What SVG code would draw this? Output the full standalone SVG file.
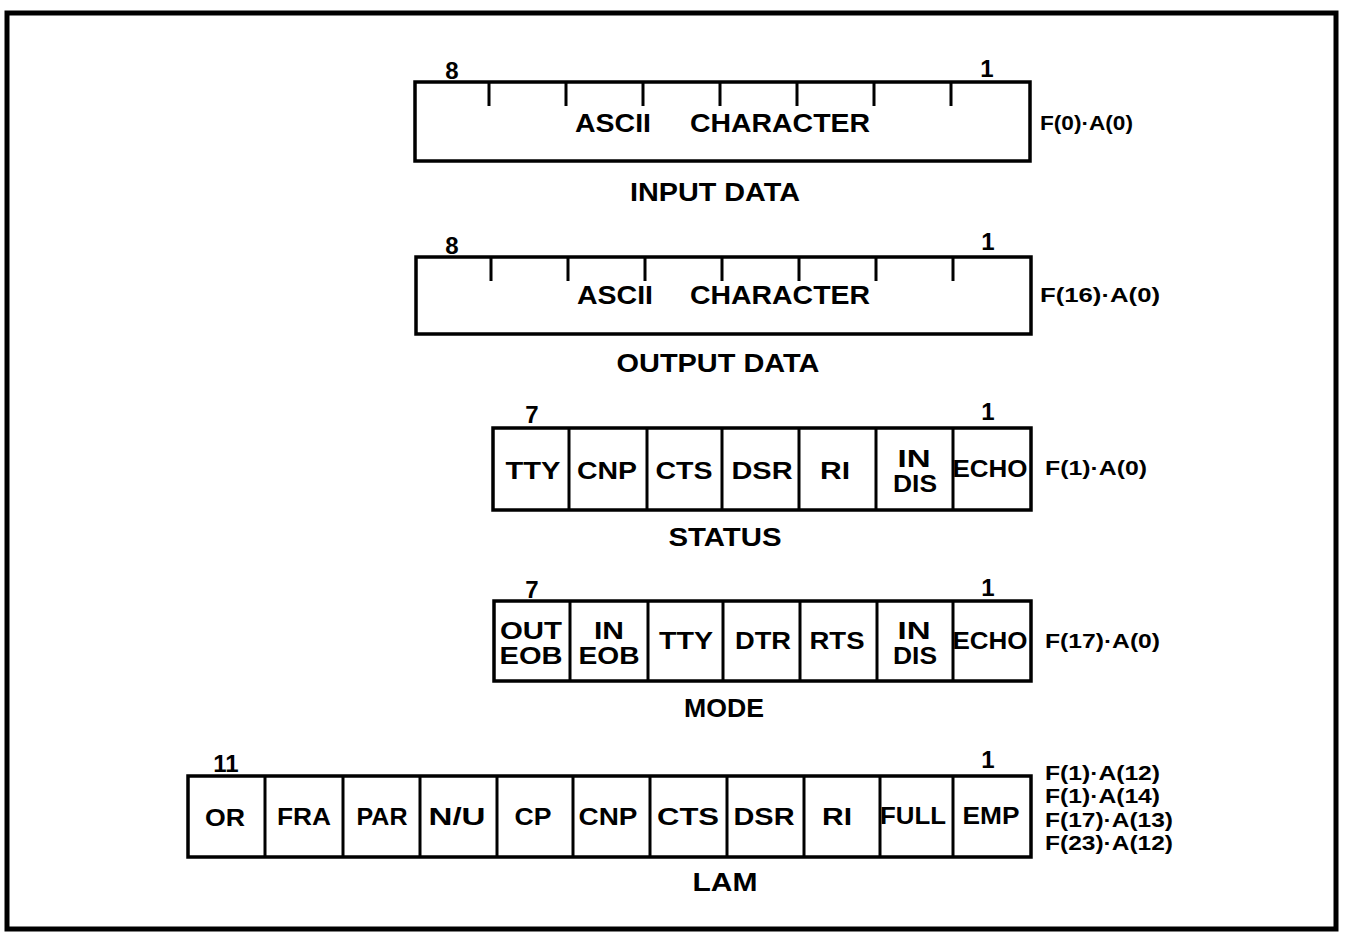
<svg xmlns="http://www.w3.org/2000/svg" width="1346" height="935" viewBox="0 0 1346 935">
<style>
.bx{fill:#fff;stroke:#000;stroke-width:3.5}
.ln{stroke:#000;stroke-width:3;fill:none}
text{font-family:"Liberation Sans",Arial,sans-serif;font-weight:bold;fill:#000}
.c{font-size:24px;text-anchor:middle}
.a{font-size:26px;text-anchor:middle}
.big{font-size:25px;text-anchor:middle}
.n{font-size:24px;text-anchor:middle}
.f{font-size:21px}
</style>
<rect x="0" y="0" width="1346" height="935" fill="#fff"/>
<rect x="7" y="13" width="1329" height="916" fill="none" stroke="#000" stroke-width="5"/>

<g id="input-data">
<rect class="bx" x="415" y="82" width="615" height="79"/>
<path class="ln" d="M489 82V106M566 82V106M643 82V106M720 82V106M797 82V106M874 82V106M951 82V106"/>
<text class="n" x="452" y="79">8</text>
<text class="n" x="987" y="77">1</text>
<text class="a" x="613" y="132" textLength="76" lengthAdjust="spacingAndGlyphs">ASCII</text>
<text class="a" x="780" y="132" textLength="180" lengthAdjust="spacingAndGlyphs">CHARACTER</text>
<text class="f" x="1040" y="130" textLength="93" lengthAdjust="spacingAndGlyphs">F(0)·A(0)</text>
<text class="big" x="715" y="201" textLength="170" lengthAdjust="spacingAndGlyphs">INPUT DATA</text>
</g>

<g id="output-data">
<rect class="bx" x="416" y="257" width="615" height="77"/>
<path class="ln" d="M491 257V281M568 257V281M645 257V281M722 257V281M799 257V281M876 257V281M953 257V281"/>
<text class="n" x="452" y="254">8</text>
<text class="n" x="988" y="250">1</text>
<text class="a" x="615" y="304" textLength="76" lengthAdjust="spacingAndGlyphs">ASCII</text>
<text class="a" x="780" y="304" textLength="180" lengthAdjust="spacingAndGlyphs">CHARACTER</text>
<text class="f" x="1040" y="302" textLength="120" lengthAdjust="spacingAndGlyphs">F(16)·A(0)</text>
<text class="big" x="718" y="372" textLength="203" lengthAdjust="spacingAndGlyphs">OUTPUT DATA</text>
</g>

<g id="status">
<rect class="bx" x="493" y="428" width="538" height="82"/>
<path class="ln" d="M569 428V510M647 428V510M722 428V510M799 428V510M876 428V510M953 428V510"/>
<text class="n" x="532" y="423">7</text>
<text class="n" x="988" y="420">1</text>
<text class="c" x="533" y="479" textLength="55" lengthAdjust="spacingAndGlyphs">TTY</text>
<text class="c" x="607" y="479" textLength="60" lengthAdjust="spacingAndGlyphs">CNP</text>
<text class="c" x="684" y="479" textLength="57" lengthAdjust="spacingAndGlyphs">CTS</text>
<text class="c" x="762" y="479" textLength="61" lengthAdjust="spacingAndGlyphs">DSR</text>
<text class="c" x="835" y="479" textLength="30" lengthAdjust="spacingAndGlyphs">RI</text>
<text class="c" x="914" y="467" textLength="33" lengthAdjust="spacingAndGlyphs">IN</text>
<text class="c" x="915" y="492" textLength="44" lengthAdjust="spacingAndGlyphs">DIS</text>
<text class="c" x="990" y="477" textLength="75" lengthAdjust="spacingAndGlyphs">ECHO</text>
<text class="f" x="1045" y="475" textLength="102" lengthAdjust="spacingAndGlyphs">F(1)·A(0)</text>
<text class="big" x="725" y="546" textLength="113" lengthAdjust="spacingAndGlyphs">STATUS</text>
</g>

<g id="mode">
<rect class="bx" x="494" y="601" width="537" height="80"/>
<path class="ln" d="M570 601V681M648 601V681M723 601V681M800 601V681M877 601V681M953 601V681"/>
<text class="n" x="532" y="598">7</text>
<text class="n" x="988" y="596">1</text>
<text class="c" x="531" y="639" textLength="62" lengthAdjust="spacingAndGlyphs">OUT</text>
<text class="c" x="531" y="664" textLength="63" lengthAdjust="spacingAndGlyphs">EOB</text>
<text class="c" x="609" y="639" textLength="30" lengthAdjust="spacingAndGlyphs">IN</text>
<text class="c" x="609" y="664" textLength="61" lengthAdjust="spacingAndGlyphs">EOB</text>
<text class="c" x="686" y="649" textLength="54" lengthAdjust="spacingAndGlyphs">TTY</text>
<text class="c" x="763" y="649" textLength="56" lengthAdjust="spacingAndGlyphs">DTR</text>
<text class="c" x="837" y="649" textLength="55" lengthAdjust="spacingAndGlyphs">RTS</text>
<text class="c" x="914" y="639" textLength="33" lengthAdjust="spacingAndGlyphs">IN</text>
<text class="c" x="915" y="664" textLength="44" lengthAdjust="spacingAndGlyphs">DIS</text>
<text class="c" x="990" y="649" textLength="75" lengthAdjust="spacingAndGlyphs">ECHO</text>
<text class="f" x="1045" y="648" textLength="115" lengthAdjust="spacingAndGlyphs">F(17)·A(0)</text>
<text class="big" x="724" y="717" textLength="80" lengthAdjust="spacingAndGlyphs">MODE</text>
</g>

<g id="lam">
<rect class="bx" x="188" y="776" width="843" height="81"/>
<path class="ln" d="M265 776V857M343 776V857M420 776V857M497 776V857M573 776V857M650 776V857M727 776V857M804 776V857M880 776V857M953 776V857"/>
<text class="n" x="226" y="772">11</text>
<text class="n" x="988" y="768">1</text>
<text class="c" x="225" y="826" textLength="40" lengthAdjust="spacingAndGlyphs">OR</text>
<text class="c" x="304" y="825" textLength="54" lengthAdjust="spacingAndGlyphs">FRA</text>
<text class="c" x="382" y="825" textLength="51" lengthAdjust="spacingAndGlyphs">PAR</text>
<text class="c" x="457" y="825" textLength="57" lengthAdjust="spacingAndGlyphs">N/U</text>
<text class="c" x="533" y="825" textLength="37" lengthAdjust="spacingAndGlyphs">CP</text>
<text class="c" x="608" y="825" textLength="59" lengthAdjust="spacingAndGlyphs">CNP</text>
<text class="c" x="688" y="825" textLength="62" lengthAdjust="spacingAndGlyphs">CTS</text>
<text class="c" x="764" y="825" textLength="61" lengthAdjust="spacingAndGlyphs">DSR</text>
<text class="c" x="837" y="825" textLength="30" lengthAdjust="spacingAndGlyphs">RI</text>
<text class="c" x="913" y="824" textLength="66" lengthAdjust="spacingAndGlyphs">FULL</text>
<text class="c" x="991" y="824" textLength="57" lengthAdjust="spacingAndGlyphs">EMP</text>
<text class="f" x="1045" y="780" textLength="115" lengthAdjust="spacingAndGlyphs">F(1)·A(12)</text>
<text class="f" x="1045" y="803" textLength="115" lengthAdjust="spacingAndGlyphs">F(1)·A(14)</text>
<text class="f" x="1045" y="827" textLength="128" lengthAdjust="spacingAndGlyphs">F(17)·A(13)</text>
<text class="f" x="1045" y="850" textLength="128" lengthAdjust="spacingAndGlyphs">F(23)·A(12)</text>
<text class="big" x="725" y="891" textLength="65" lengthAdjust="spacingAndGlyphs">LAM</text>
</g>
</svg>
